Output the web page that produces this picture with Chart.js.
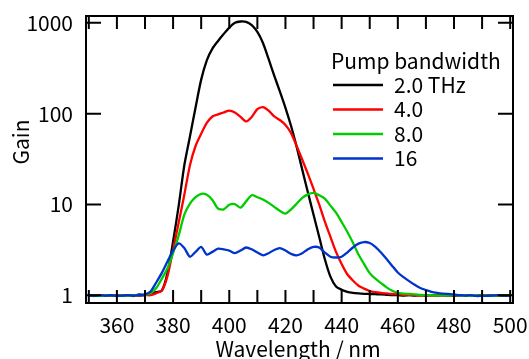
<!DOCTYPE html>
<html>
<head>
<meta charset="utf-8">
<script src="https://cdn.jsdelivr.net/npm/chart.js@4.4.1/dist/chart.umd.min.js"></script>
<style>
  html, body { margin: 0; padding: 0; background: #fff; }
  #wrap { width: 529px; height: 359px; }
</style>
</head>
<body>
<div id="wrap"><canvas id="chart" width="529" height="359"></canvas></div>
<script>
"use strict";

// Gain spectra for four pump bandwidths.
const WAVELENGTHS = [350, 352, 354, 356, 358, 360, 362, 364, 366, 368, 370,
  372, 374, 376, 378, 380, 382, 384, 386, 388, 390, 392, 394, 396, 398, 400,
  402, 404, 406, 408, 410, 412, 414, 416, 418, 420, 422, 424, 426, 428, 430,
  432, 434, 436, 438, 440, 442, 444, 446, 448, 450, 452, 454, 456, 458, 460,
  462, 464, 466, 468, 470, 472, 474, 476, 478, 480, 482, 484, 486, 488, 490,
  492, 494, 496, 498, 500];

const GAIN_2THZ = [0.98, 1.0, 0.99, 1.0, 0.98, 1.0, 0.99, 1.0, 0.98, 1.02, 1.0,
  1.04, 1.08, 1.12, 1.75, 3.9, 9.7, 27, 56, 117, 237, 387, 520, 631, 752, 885,
  1000, 1035, 1025, 945, 795, 600, 400, 262, 176, 116, 73, 43, 24, 13.5, 7.7,
  4.4, 2.5, 1.6, 1.25, 1.15, 1.09, 1.06, 1.045, 1.035, 1.03, 1.025, 1.02, 1.01,
  1.0, 1.0, 0.99, 1.0, 0.99, 1.0, 0.99, 1.0, 0.99, 1.0, 0.99, 0.98, 0.99, 1.0,
  0.99, 0.98, 0.99, 1.0, 0.99, 0.98, 0.99, 0.99];

const GAIN_4 = [0.98, 0.99, 1.0, 0.98, 1.0, 0.99, 1.0, 0.99, 1.0, 0.98, 1.0,
  1.0, 1.05, 1.12, 1.62, 3.15, 6.3, 12.8, 27, 44, 60, 79, 93, 98, 103, 108,
  103, 92, 82, 92, 112, 118, 108, 93, 85, 75, 61, 44, 31, 21.7, 14.8, 10.0,
  6.5, 4.4, 3.0, 2.2, 1.7, 1.45, 1.27, 1.18, 1.11, 1.08, 1.06, 1.045, 1.03,
  1.025, 1.01, 1.0, 1.0, 0.99, 1.0, 0.99, 1.0, 0.99, 0.98, 0.99, 1.0, 0.99,
  0.98, 0.99, 1.0, 0.99, 0.98, 0.99, 1.0, 0.99];

const GAIN_8 = [0.99, 1.0, 0.98, 1.0, 0.99, 0.98, 1.0, 0.99, 1.0, 1.0, 1.01,
  1.05, 1.2, 1.52, 1.98, 2.9, 4.55, 7.7, 10.2, 12.0, 13.1, 12.8, 11.2, 9.0,
  8.8, 9.9, 10.1, 9.2, 10.8, 12.6, 12.0, 11.3, 10.4, 9.4, 8.5, 7.9, 8.8, 10.2,
  11.8, 12.9, 13.4, 12.6, 11.6, 9.7, 8.1, 6.4, 5.0, 3.8, 2.8, 2.2, 1.75, 1.52,
  1.36, 1.22, 1.12, 1.06, 1.04, 1.03, 1.02, 1.01, 1.0, 1.0, 0.99, 1.0, 0.99,
  1.0, 0.99, 1.0, 0.98, 0.99, 1.0, 0.99, 0.98, 0.99, 1.0, 0.99];

const GAIN_16 = [0.99, 0.98, 1.0, 0.99, 1.0, 0.98, 0.99, 1.0, 0.99, 1.0, 1.02,
  1.1, 1.38, 1.76, 2.35, 3.1, 3.72, 3.3, 2.65, 3.0, 3.4, 2.8, 3.0, 3.25, 3.2,
  3.1, 2.9, 3.1, 3.35, 3.2, 2.95, 2.75, 2.9, 3.15, 3.3, 3.1, 2.85, 2.75, 2.9,
  3.2, 3.4, 3.35, 2.95, 2.65, 2.6, 2.65, 2.95, 3.35, 3.7, 3.85, 3.75, 3.4,
  2.95, 2.5, 2.1, 1.78, 1.58, 1.43, 1.3, 1.2, 1.14, 1.09, 1.06, 1.04, 1.03,
  1.02, 1.0, 0.99, 1.0, 0.98, 0.99, 0.98, 0.99, 1.0, 0.99, 0.99];

const X_TICKS = [350, 360, 370, 380, 390, 400, 410, 420, 430, 440, 450, 460,
  470, 480, 490, 500];
const X_LABELS = [360, 380, 400, 420, 440, 460, 480, 500];
const Y_TICKS = [1, 10, 100, 1000];

const LEGEND_TITLE = "Pump bandwidth";
const SERIES = [
  { label: "2.0 THz", values: GAIN_2THZ, color: "#000000", order: 3 },
  { label: "4.0", values: GAIN_4, color: "#ff0000", order: 2 },
  { label: "8.0", values: GAIN_8, color: "#00cc00", order: 1 },
  { label: "16", values: GAIN_16, color: "#0033cc", order: 0 },
];

const FONT = "'Noto Sans CJK JP', 'DejaVu Sans', sans-serif";
const FONT_SIZE = 21;

// Frame, inward ticks on all four sides, tick labels, titles and the legend.
// Drawn here so Chart.js does not add label overflow padding to the plot box.
const decor = {
  id: "decor",
  afterDraw(chart) {
    const { ctx, chartArea: a, scales } = chart;
    ctx.save();
    ctx.strokeStyle = "#000";
    ctx.lineWidth = 2;
    ctx.strokeRect(a.left, a.top, a.right - a.left, a.bottom - a.top);

    ctx.beginPath();
    X_TICKS.forEach((v) => {
      const x = scales.x.getPixelForValue(v);
      ctx.moveTo(x, a.bottom); ctx.lineTo(x, a.bottom - 13);
      ctx.moveTo(x, a.top); ctx.lineTo(x, a.top + 13);
    });
    Y_TICKS.forEach((v) => {
      const y = scales.y.getPixelForValue(v);
      ctx.moveTo(a.left, y); ctx.lineTo(a.left + 15, y);
      ctx.moveTo(a.right, y); ctx.lineTo(a.right - 15, y);
    });
    ctx.stroke();

    ctx.fillStyle = "#000";
    ctx.font = `${FONT_SIZE}px ${FONT}`;
    ctx.textBaseline = "middle";

    ctx.textAlign = "center";
    X_LABELS.forEach((v) => {
      ctx.fillText(String(v), scales.x.getPixelForValue(v), 325);
    });
    ctx.textAlign = "right";
    Y_TICKS.forEach((v) => {
      ctx.fillText(String(v), 73, scales.y.getPixelForValue(v));
    });

    ctx.textAlign = "center";
    ctx.fillText("Wavelength / nm", 298, 349);
    ctx.save();
    ctx.translate(21, 142);
    ctx.rotate(-Math.PI / 2);
    ctx.fillText("Gain", 0, 0);
    ctx.restore();

    ctx.textAlign = "left";
    ctx.fillText(LEGEND_TITLE, 331, 61);
    chart.data.datasets.forEach((ds, i) => {
      const y = 85 + i * 24.5;
      ctx.strokeStyle = ds.borderColor;
      ctx.lineWidth = 2.5;
      ctx.beginPath();
      ctx.moveTo(333, y); ctx.lineTo(383, y);
      ctx.stroke();
      ctx.fillText(ds.label, 394, y);
    });
    ctx.restore();
  },
};

new Chart(document.getElementById("chart"), {
  type: "line",
  data: {
    datasets: SERIES.map((s) => ({
      label: s.label,
      data: WAVELENGTHS.map((w, i) => ({ x: w, y: s.values[i] })),
      borderColor: s.color,
      borderWidth: 2.3,
      pointRadius: 0,
      tension: 0.25,
      order: s.order,
    })),
  },
  options: {
    responsive: false,
    animation: false,
    layout: { padding: { top: 16, right: 16, left: 0, bottom: 0 } },
    plugins: { legend: { display: false }, tooltip: { enabled: false } },
    scales: {
      x: {
        type: "linear",
        min: 349,
        max: 501,
        grid: { display: false, drawTicks: false },
        border: { display: false },
        ticks: { display: false },
        afterFit: (s) => { s.height = 56; },
      },
      y: {
        type: "logarithmic",
        min: 0.82,
        max: 1190,
        grid: { display: false, drawTicks: false },
        border: { display: false },
        ticks: { display: false },
        afterFit: (s) => { s.width = 86; },
      },
    },
  },
  plugins: [decor],
});
</script>
</body>
</html>
